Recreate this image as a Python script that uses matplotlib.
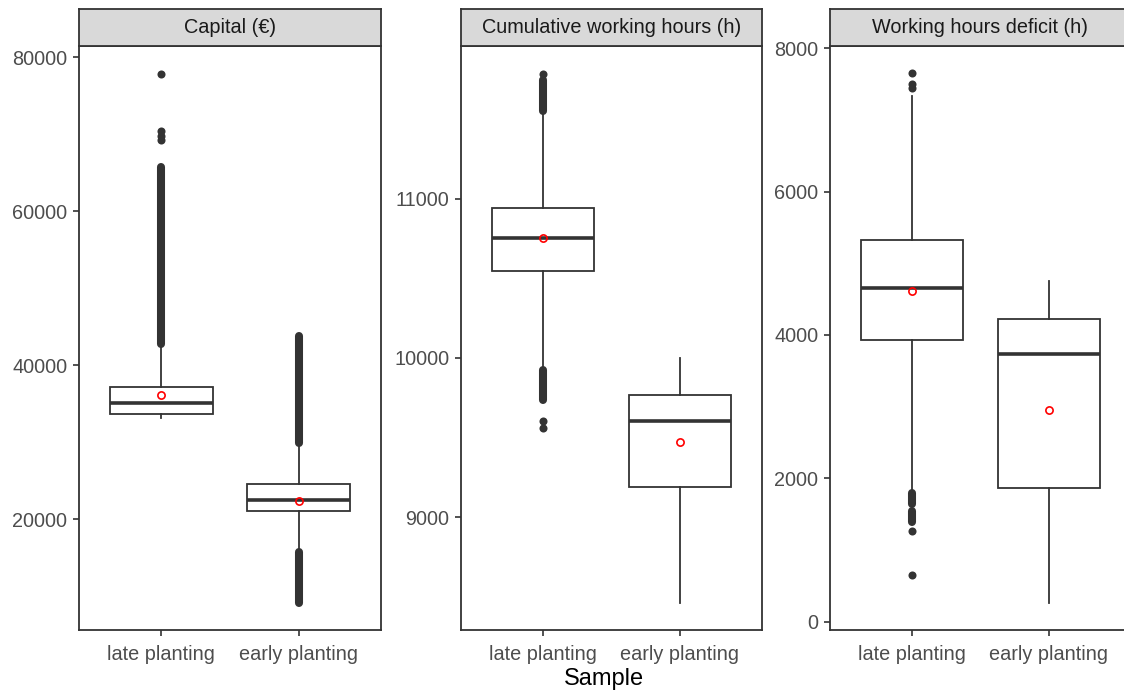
import matplotlib.pyplot as plt

plt.rcParams['font.family'] = ['Liberation Sans', 'DejaVu Sans']

samples = ["late planting", "early planting"]
titles = ["Capital (€)", "Cumulative working hours (h)", "Working hours deficit (h)"]

# box statistics, one value per sample (late, early)
capital_q1 = [33600, 21040]
capital_med = [35030, 22430]
capital_q3 = [37180, 24510]
capital_lo = [33160, 15900]
capital_hi = [42400, 29600]
capital_mean = [36140, 22340]
capital_single = [[69220, 69800, 70390, 77790], []]
capital_runs = [[(42700, 65700)], [(29900, 43800), (9130, 15675)]]

hours_q1 = [10544, 9192]
hours_med = [10754, 9604]
hours_q3 = [10944, 9765]
hours_lo = [9950, 8463]
hours_hi = [11530, 10000]
hours_mean = [10750, 9475]
hours_single = [[11783, 9604, 9559], []]
hours_runs = [[(11552, 11745), (9737, 9923)], []]

deficit_q1 = [3929, 1860]
deficit_med = [4651, 3739]
deficit_q3 = [5325, 4228]
deficit_lo = [1830, 265]
deficit_hi = [7334, 4752]
deficit_mean = [4613, 2949]
deficit_single = [[7651, 7500, 7440, 1260, 652], []]
deficit_runs = [[(1647, 1800), (1390, 1550)], []]

ylims = [(5585, 81430), (8292, 11958), (-116, 8032)]
yticks = [[20000, 40000, 60000, 80000], [9000, 10000, 11000], [0, 2000, 4000, 6000, 8000]]

panels = [
    (capital_q1, capital_med, capital_q3, capital_lo, capital_hi, capital_mean, capital_single, capital_runs),
    (hours_q1, hours_med, hours_q3, hours_lo, hours_hi, hours_mean, hours_single, hours_runs),
    (deficit_q1, deficit_med, deficit_q3, deficit_lo, deficit_hi, deficit_mean, deficit_single, deficit_runs),
]

W, H = 1124, 692
fig = plt.figure(figsize=(W / 100, H / 100), dpi=100)

# pixel extents of each panel (left, right)
lefts = [79, 461, 830]
rights = [381, 762, 1131]
top_px, bot_px, strip_top = 46, 630, 9

dark = "#333333"
for i, (q1, med, q3, lo, hi, mean, single, runs) in enumerate(panels):
    x0 = lefts[i] / W
    w = (rights[i] - lefts[i]) / W
    ax = fig.add_axes([x0, 1 - bot_px / H, w, (bot_px - top_px) / H])
    stats = []
    for j in range(2):
        stats.append(dict(q1=q1[j], med=med[j], q3=q3[j], whislo=lo[j], whishi=hi[j], fliers=[]))
    ax.bxp(stats, positions=[1, 2], widths=0.75, showcaps=False, showfliers=False,
           patch_artist=True,
           boxprops=dict(facecolor="white", edgecolor=dark, linewidth=1.3),
           whiskerprops=dict(color=dark, linewidth=1.3),
           medianprops=dict(color=dark, linewidth=2.6))
    for j in range(2):
        for (a, b) in runs[j]:
            lc = ax.vlines(j + 1, a, b, color=dark, linewidth=5.8, zorder=4)
            lc.set_capstyle("round")
        if single[j]:
            ax.plot([j + 1] * len(single[j]), single[j], "o", color=dark, ms=5.8, mew=0, zorder=4)
    ax.plot([1, 2], mean, "o", mfc="none", mec="red", ms=5.2, mew=1.2, zorder=5)

    ax.set_xlim(0.4, 2.6)
    ax.set_ylim(*ylims[i])
    ax.set_yticks(yticks[i])
    ax.set_xticks([1, 2])
    ax.set_xticklabels(samples)
    ax.tick_params(colors=dark, labelcolor="#4D4D4D", labelsize=14.3, length=4.5, width=1.2, pad=4)
    ax.tick_params(axis="x", pad=6)
    for s in ax.spines.values():
        s.set_color(dark)
        s.set_linewidth(1.3)

    sax = fig.add_axes([x0, 1 - top_px / H, w, (top_px - strip_top) / H])
    sax.set_facecolor("#D9D9D9")
    sax.set_xticks([])
    sax.set_yticks([])
    for s in sax.spines.values():
        s.set_color(dark)
        s.set_linewidth(1.3)
    sax.text(0.5, 0.5, titles[i], ha="center", va="center", fontsize=14.3, color="#1A1A1A",
             transform=sax.transAxes)

fig.text(604 / W, 1 - 679 / H, "Sample", ha="center", va="center", fontsize=17, color="black")

fig.savefig("out.png", dpi=100)
